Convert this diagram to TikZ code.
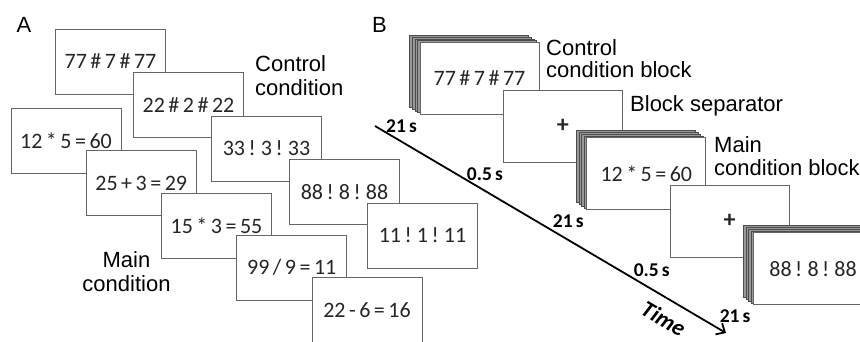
\documentclass[tikz,border=0pt]{standalone}
\usepackage{fontspec}
\setmainfont{Liberation Sans}
\newfontfamily\calibri{Carlito}[WordSpace=0.7]
\usetikzlibrary{arrows.meta,shadows}

\begin{document}
\begin{tikzpicture}[x=1pt,y=-1pt,>={Straight Barb[length=7pt,width=13pt]},
card/.style={draw=black!60,fill=white,line width=1pt,minimum width=110pt,minimum height=65pt,inner sep=0pt,
  font=\calibri\fontsize{22}{26}\selectfont,text=black!85},
widecard/.style={card,minimum width=119pt,minimum height=72pt},
back/.style={fill=black!40,draw=black!70,line width=.6pt},
pagestack/.style={widecard,
  copy shadow={shadow xshift=-10.4pt,shadow yshift=7.2pt,back},
  copy shadow={shadow xshift=-7.8pt,shadow yshift=5.4pt,back},
  copy shadow={shadow xshift=-5.2pt,shadow yshift=3.6pt,back},
  copy shadow={shadow xshift=-2.6pt,shadow yshift=1.8pt,back}},
note/.style={font=\fontsize{22}{24}\selectfont,inner sep=0pt},
durtext/.style={font=\calibri\bfseries\fontsize{19.5}{22}\selectfont,inner sep=0pt}]
\useasboundingbox (0,0) rectangle (860,341);
\clip (0,0) rectangle (860,341);
% A: the two conditions
\node[note] (panA) at (24,25) {A};
\node[card] (ctl1) at (110.5,61.5) {77 \# 7 \# 77};
\node[card] (ctl2) at ([shift={(78,43.5)}]ctl1) {22 \# 2 \# 22};
\node[card] (ctl3) at ([shift={(78,43.5)}]ctl2) {33 ! 3 ! 33};
\node[card] (ctl4) at ([shift={(78,43.5)}]ctl3) {88 ! 8 ! 88};
\node[card] (ctl5) at ([shift={(78,43.5)}]ctl4) {11 ! 1 ! 11};
\node[note,anchor=west,align=left] (ctlnote) at (255,76) {Control\\condition};
\node[card] (main1) at (66,141) {12 * 5 = 60};
\node[card] (main2) at ([shift={(75.25,42.25)}]main1) {25 + 3 = 29};
\node[card] (main3) at ([shift={(75.25,42.25)}]main2) {15 * 3 = 55};
\node[card] (main4) at ([shift={(75.25,42.25)}]main3) {99 / 9 = 11};
\node[card] (main5) at ([shift={(75.25,42.25)}]main4) {22 - 6 = 16};
\node[note,align=center] (mainnote) at (126.5,271.5) {Main\\condition};
% B: block design
\node[note] (panB) at (379.5,25) {B};
\node[pagestack] (ctlblock) at (479.5,78.5) {77 \# 7 \# 77};
\node[widecard,font=\calibri\bfseries\fontsize{24}{26}\selectfont] (sep1) at ([shift={(83.4,47.6)}]ctlblock) {+};
\node[pagestack] (mainblock) at ([shift={(83.4,47.6)}]sep1) {12 * 5 = 60};
\node[widecard,font=\calibri\bfseries\fontsize{24}{26}\selectfont] (sep2) at ([shift={(83.4,47.6)}]mainblock) {+};
\node[pagestack] (ctlblock2) at ([shift={(83.4,47.6)}]sep2) {88 ! 8 ! 88};
\node[note,anchor=west,align=left,font=\fontsize{22}{22}\selectfont] (ctlblocknote) at (546,58.5) {Control\\condition block};
\node[note,anchor=west] (sepnote) at (630,106) {Block separator};
\node[note,anchor=west,align=left,font=\fontsize{22}{23}\selectfont] (mainblocknote) at (714,156.5) {Main\\condition block};
\node[durtext] (d1) at ([shift={(-18,11)}]ctlblock.south west) {21 s};
\node[durtext] (d2) at ([shift={(-18,12)}]sep1.south west) {0.5 s};
\node[durtext] (d3) at ([shift={(-18,11)}]mainblock.south west) {21 s};
\node[durtext] (d4) at ([shift={(-18,12)}]sep2.south west) {0.5 s};
\node[durtext] (d5) at ([shift={(-18,11)}]ctlblock2.south west) {21 s};
\coordinate (tstart) at (375,126);
\coordinate (tend) at (726,333);
\draw[->,line width=1.8pt] (tstart)--node[pos=.85,sloped,below=10pt,inner sep=0pt,
  font=\calibri\bfseries\itshape\fontsize{23}{26}\selectfont] (timenote) {Time}(tend);
\end{tikzpicture}
\end{document}
